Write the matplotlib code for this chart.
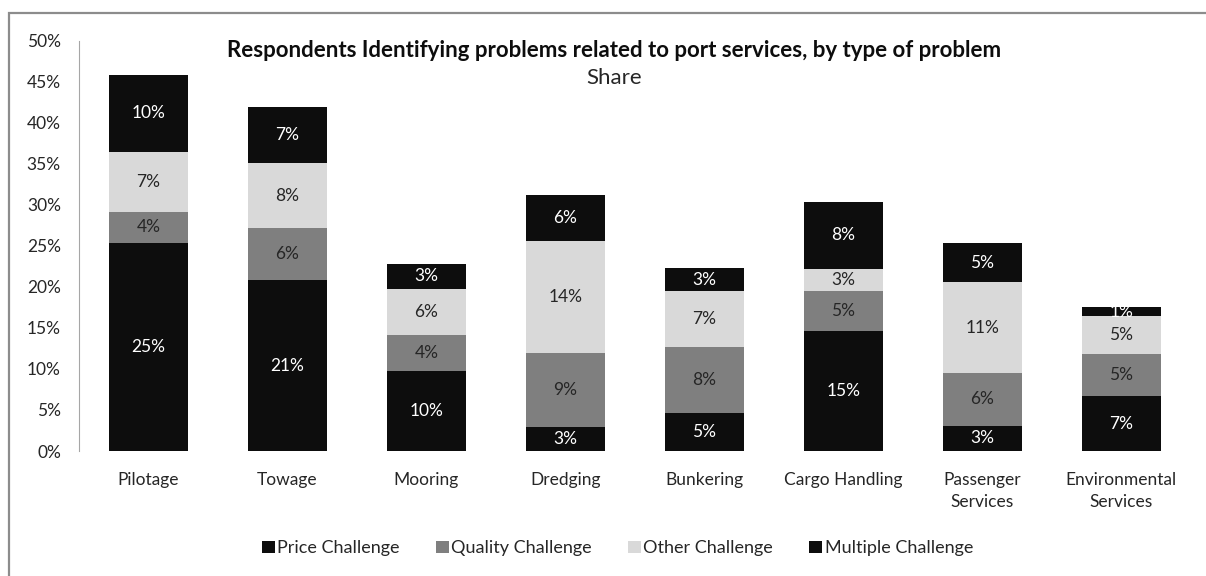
import numpy as np
import matplotlib.pyplot as plt
from matplotlib.patches import Rectangle

plt.rcParams['font.family'] = ['Lato', 'DejaVu Sans']

# share of respondents (%) by service and type of problem
services = ["Pilotage", "Towage", "Mooring", "Dredging", "Bunkering",
            "Cargo Handling", "Passenger\nServices", "Environmental\nServices"]
price    = [25.3, 20.8, 9.8, 2.9, 4.6, 14.6, 3.1, 6.7]
quality  = [3.9, 6.4, 4.4, 9.1, 8.1, 4.9, 6.4, 5.1]
other    = [7.2, 7.9, 5.6, 13.6, 6.8, 2.7, 11.1, 4.7]
multiple = [9.5, 6.9, 3.0, 5.6, 2.8, 8.2, 4.7, 1.0]

series = [("Price Challenge", price, "#0d0d0d", "white"),
          ("Quality Challenge", quality, "#7f7f7f", "#262626"),
          ("Other Challenge", other, "#d9d9d9", "#262626"),
          ("Multiple Challenge", multiple, "#0d0d0d", "white")]

fig = plt.figure(figsize=(12.06, 5.76), dpi=100)
ax = fig.add_axes([0.0655, 0.217, 0.922, 0.712])

x = np.arange(len(services))
bottom = np.zeros(len(services))
for name, vals, col, tcol in series:
    vals = np.array(vals)
    bars = ax.bar(x, vals, 0.57, bottom=bottom, color=col, label=name)
    for xi, b, v in zip(x, bottom, vals):
        ax.text(xi, b + v / 2, "%d%%" % round(v), ha="center", va="center",
                fontsize=12.5, color=tcol)
    bottom += vals

ax.set_xlim(-0.5, len(services) - 0.5)
ax.set_ylim(0, 50)
ax.set_yticks(range(0, 51, 5))
ax.set_yticklabels(["%d%%" % v for v in range(0, 51, 5)], fontsize=12.5, color="#262626")
ax.set_xticks(x)
ax.set_xticklabels(services, fontsize=12.5, color="#262626", linespacing=1.45)
ax.tick_params(axis="both", length=0)
ax.tick_params(axis="y", pad=13)
ax.tick_params(axis="x", pad=15)
for s in ["top", "right", "bottom"]:
    ax.spines[s].set_visible(False)
ax.spines["left"].set_color("#a6a6a6")

fig.text(0.509, 0.913, "Respondents Identifying problems related to port services, by type of problem",
         ha="center", va="center", fontsize=16, fontweight="bold", color="#0d0d0d")
fig.text(0.509, 0.864, "Share", ha="center", va="center", fontsize=16, color="#262626")

fig.legend(loc="center", bbox_to_anchor=(0.512, 0.048), ncol=4, frameon=False,
           fontsize=13, handlelength=0.7, handleheight=0.7, handletextpad=0.15,
           columnspacing=2.0, labelcolor="#262626")

# outer chart border
fig.patches.append(Rectangle((9 / 1206, -0.1), 1.2, 1 - 13 / 576 + 0.1,
                             transform=fig.transFigure, fill=False,
                             edgecolor="#8c8c8c", linewidth=1.6))

fig.savefig("out.png", dpi=100)
